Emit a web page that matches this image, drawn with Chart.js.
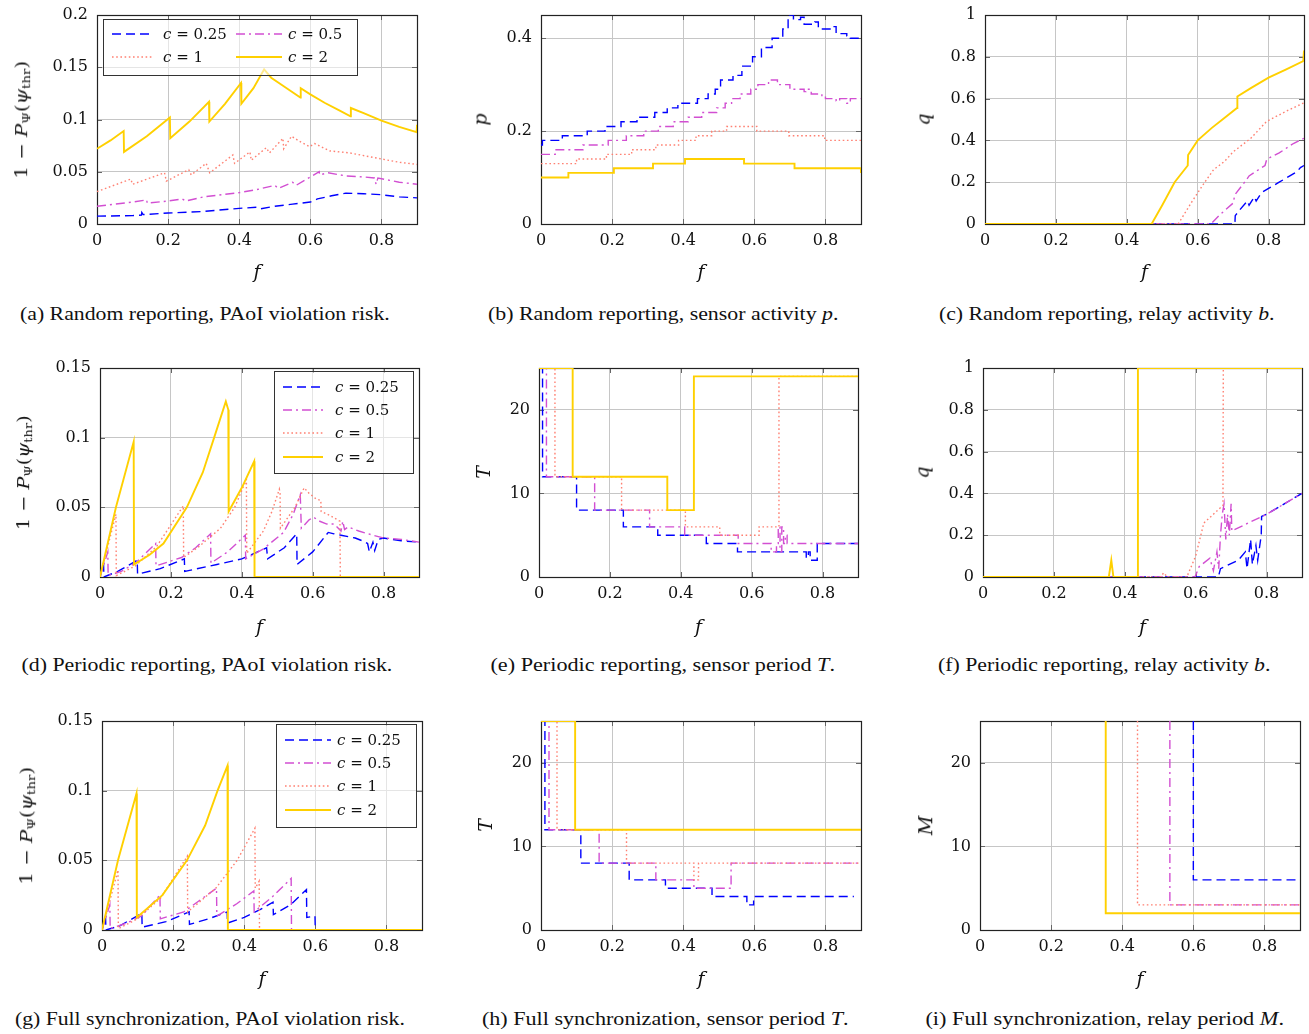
<!DOCTYPE html>
<html><head><meta charset="utf-8">
<script src="https://cdn.jsdelivr.net/npm/chart.js@4.4.1/dist/chart.umd.min.js"></script>
<style>
html,body{margin:0;padding:0;background:#fff;}
body{width:1309px;height:1034px;position:relative;overflow:hidden;}
canvas{position:absolute;}
.t{position:absolute;white-space:nowrap;line-height:1;color:#111;transform-origin:50% 50%;}
.cap{font-family:"Liberation Serif","Times New Roman",serif;font-size:18px;}
.ax{font-family:"DejaVu Serif",serif;font-size:17px;}
.axl{font-family:"DejaVu Serif",serif;font-size:19px;font-style:italic;}
.leg{position:absolute;box-sizing:border-box;border:1px solid #333;background:rgba(255,255,255,0.55);}
.lt{font-family:"DejaVu Serif",serif;font-size:15px;}
sub{font-size:68%;vertical-align:-0.25em;}
</style></head><body>
<script>
// ---------------- data ----------------
const cValues = ['0.25', '0.5', '1', '2'];
const xTickStep = 0.2;

// (a) random reporting, PAoI violation risk
const aBlue = [[0,0.0075],[0.1,0.008],[0.125,0.0085],[0.126,0.011],[0.13,0.009],[0.2,0.0105],[0.3,0.012],[0.4,0.015],[0.45,0.016],[0.46,0.0145],[0.5,0.017],[0.55,0.019],[0.6,0.021],[0.62,0.024],[0.66,0.027],[0.7,0.0295],[0.75,0.029],[0.8,0.028],[0.85,0.026],[0.9,0.025]];
const aMag = [[0,0.017],[0.1,0.021],[0.14,0.023],[0.141,0.020],[0.2,0.022],[0.24,0.024],[0.25,0.022],[0.3,0.026],[0.35,0.028],[0.4,0.030],[0.45,0.033],[0.5,0.037],[0.51,0.034],[0.55,0.040],[0.56,0.037],[0.6,0.045],[0.625,0.050],[0.626,0.047],[0.65,0.049],[0.7,0.046],[0.75,0.045],[0.78,0.044],[0.785,0.038],[0.79,0.044],[0.85,0.040],[0.9,0.038]];
const aSal = [[0,0.031],[0.095,0.043],[0.1,0.038],[0.19,0.049],[0.195,0.041],[0.258,0.052],[0.265,0.047],[0.307,0.058],[0.317,0.049],[0.382,0.066],[0.387,0.058],[0.43,0.069],[0.434,0.061],[0.476,0.073],[0.485,0.068],[0.523,0.082],[0.525,0.072],[0.547,0.084],[0.57,0.079],[0.598,0.074],[0.612,0.077],[0.654,0.070],[0.711,0.068],[0.757,0.065],[0.804,0.062],[0.851,0.059],[0.9,0.057]];
const aYel = [[0,0.072],[0.038,0.080],[0.075,0.089],[0.076,0.069],[0.14,0.084],[0.205,0.102],[0.206,0.082],[0.26,0.098],[0.315,0.117],[0.316,0.098],[0.36,0.115],[0.405,0.135],[0.406,0.115],[0.44,0.130],[0.47,0.148],[0.49,0.140],[0.52,0.133],[0.55,0.126],[0.572,0.121],[0.573,0.130],[0.60,0.124],[0.64,0.116],[0.68,0.109],[0.713,0.103],[0.714,0.111],[0.75,0.106],[0.80,0.099],[0.85,0.093],[0.899,0.088],[0.9,0.095]];

// (b) random reporting, sensor activity p (step values)
const bBlue = [[0,0.17],[0.004,0.18],[0.06,0.19],[0.13,0.20],[0.18,0.21],[0.225,0.22],[0.27,0.23],[0.32,0.24],[0.355,0.25],[0.385,0.26],[0.44,0.27],[0.47,0.28],[0.49,0.29],[0.505,0.31],[0.54,0.32],[0.565,0.34],[0.595,0.36],[0.62,0.38],[0.65,0.40],[0.68,0.42],[0.695,0.45],[0.71,0.44],[0.73,0.445],[0.74,0.43],[0.77,0.435],[0.78,0.42],[0.82,0.425],[0.83,0.41],[0.86,0.405],[0.87,0.40],[0.9,0.40]];
const bMag = [[0,0.15],[0.04,0.16],[0.118,0.17],[0.189,0.18],[0.24,0.19],[0.289,0.20],[0.33,0.21],[0.372,0.22],[0.414,0.23],[0.452,0.24],[0.494,0.25],[0.518,0.26],[0.536,0.27],[0.56,0.28],[0.59,0.29],[0.61,0.30],[0.64,0.31],[0.665,0.30],[0.70,0.29],[0.74,0.285],[0.745,0.29],[0.76,0.28],[0.79,0.275],[0.80,0.27],[0.83,0.265],[0.84,0.27],[0.86,0.26],[0.87,0.27],[0.9,0.27]];
const bSal = [[0,0.13],[0.1,0.14],[0.184,0.15],[0.255,0.16],[0.323,0.17],[0.387,0.18],[0.436,0.19],[0.48,0.20],[0.522,0.21],[0.607,0.20],[0.697,0.19],[0.798,0.18],[0.9,0.18]];
const bYel = [[0,0.10],[0.077,0.11],[0.205,0.12],[0.315,0.13],[0.405,0.14],[0.571,0.13],[0.713,0.12],[0.9,0.11]];

// (c) random reporting, relay activity
const cBlue = [[0,0],[0.705,0],[0.706,0.04],[0.72,0.07],[0.74,0.11],[0.745,0.09],[0.76,0.13],[0.765,0.11],[0.78,0.15],[0.80,0.17],[0.83,0.20],[0.86,0.23],[0.88,0.25],[0.89,0.27],[0.9,0.28]];
const cMag = [[0,0],[0.637,0],[0.66,0.04],[0.70,0.10],[0.705,0.14],[0.737,0.21],[0.745,0.23],[0.79,0.28],[0.795,0.31],[0.83,0.34],[0.87,0.385],[0.9,0.41]];
const cSal = [[0,0],[0.545,0],[0.585,0.11],[0.62,0.20],[0.645,0.26],[0.676,0.30],[0.70,0.345],[0.75,0.41],[0.794,0.49],[0.85,0.54],[0.9,0.58]];
const cYel = [[0,0],[0.47,0],[0.50,0.09],[0.535,0.20],[0.572,0.28],[0.573,0.33],[0.60,0.40],[0.64,0.46],[0.67,0.50],[0.711,0.555],[0.712,0.61],[0.75,0.65],[0.80,0.70],[0.85,0.74],[0.898,0.78],[0.9,0.83]];

// (d) periodic reporting, PAoI violation risk
const dBlue = [[0,0],[0.01,0.01],[0.011,0],[0.05,0.004],[0.105,0.012],[0.106,0.002],[0.17,0.006],[0.238,0.013],[0.239,0.004],[0.33,0.009],[0.40,0.013],[0.47,0.021],[0.473,0.013],[0.52,0.021],[0.555,0.031],[0.556,0.009],[0.60,0.018],[0.644,0.032],[0.66,0.031],[0.68,0.030],[0.70,0.029],[0.72,0.028],[0.74,0.026],[0.755,0.024],[0.76,0.018],[0.77,0.025],[0.775,0.019],[0.785,0.027],[0.8,0.028],[0.85,0.026],[0.9,0.025]];
const dMag = [[0,0],[0.022,0.018],[0.023,0.001],[0.06,0.004],[0.1,0.01],[0.157,0.024],[0.158,0.008],[0.23,0.014],[0.27,0.021],[0.312,0.031],[0.313,0.01],[0.36,0.018],[0.41,0.030],[0.411,0.013],[0.46,0.02],[0.518,0.032],[0.545,0.045],[0.565,0.059],[0.568,0.035],[0.59,0.041],[0.602,0.043],[0.62,0.040],[0.64,0.038],[0.66,0.038],[0.68,0.033],[0.685,0.040],[0.69,0.034],[0.70,0.036],[0.73,0.033],[0.77,0.030],[0.8,0.028],[0.85,0.027],[0.9,0.025]];
const dSal = [[0,0],[0.045,0.045],[0.046,0.001],[0.1,0.008],[0.16,0.022],[0.235,0.051],[0.236,0.014],[0.28,0.022],[0.34,0.035],[0.38,0.05],[0.413,0.07],[0.414,0.017],[0.461,0.033],[0.485,0.047],[0.506,0.063],[0.508,0.060],[0.509,0.035],[0.55,0.05],[0.576,0.064],[0.59,0.060],[0.60,0.058],[0.61,0.056],[0.623,0.055],[0.624,0.047],[0.65,0.044],[0.677,0.040],[0.678,0],[0.9,0]];
const dYel = [[0,0],[0.045,0.05],[0.095,0.097],[0.096,0.009],[0.14,0.016],[0.179,0.024],[0.245,0.05],[0.29,0.075],[0.322,0.10],[0.355,0.126],[0.362,0.12],[0.363,0.047],[0.40,0.064],[0.435,0.083],[0.436,0],[0.9,0]];

// (e) periodic reporting, sensor period T (step values)
const eBlue = [[0,25],[0.01,12],[0.106,8],[0.238,6],[0.335,5],[0.472,4],[0.56,3],[0.754,2.3],[0.76,3],[0.765,2],[0.785,4],[0.9,4]];
const eMag = [[0,25],[0.021,12],[0.157,8],[0.312,6],[0.411,5],[0.562,4],[0.655,3],[0.67,4],[0.675,6],[0.68,3],[0.685,6],[0.69,4],[0.695,5],[0.70,4],[0.9,4]];
const eSal = [[0,25],[0.045,12],[0.233,8],[0.413,6],[0.51,5],[0.621,6],[0.677,24],[0.9,24]];
const eYel = [[0,25],[0.095,12],[0.362,8],[0.437,24],[0.9,24]];

// (f) periodic reporting, relay activity
const fBlue = [[0,0],[0.664,0],[0.67,0.04],[0.72,0.08],[0.74,0.12],[0.745,0.04],[0.755,0.18],[0.76,0.06],[0.77,0.15],[0.775,0.08],[0.785,0.2],[0.786,0.29],[0.8,0.30],[0.85,0.35],[0.9,0.40]];
const fMag = [[0,0],[0.598,0],[0.61,0.05],[0.64,0.09],[0.65,0.03],[0.66,0.12],[0.665,0.04],[0.67,0.2],[0.675,0.3],[0.68,0.35],[0.685,0.18],[0.69,0.3],[0.695,0.2],[0.70,0.35],[0.702,0.22],[0.75,0.26],[0.80,0.30],[0.85,0.35],[0.9,0.40]];
const fSal = [[0,0],[0.50,0],[0.51,0.02],[0.52,0],[0.575,0],[0.60,0.1],[0.623,0.258],[0.65,0.30],[0.677,0.343],[0.678,1],[0.9,1]];
const fYel = [[0,0],[0.355,0],[0.362,0.08],[0.368,0],[0.437,0],[0.4371,1],[0.9,1]];

// (g) full synchronization, PAoI violation risk
const gBlue = [[0,0],[0.01,0.01],[0.011,0],[0.05,0.003],[0.112,0.012],[0.113,0.002],[0.18,0.006],[0.245,0.013],[0.246,0.004],[0.30,0.008],[0.352,0.013],[0.353,0.005],[0.40,0.009],[0.44,0.014],[0.481,0.02],[0.482,0.011],[0.53,0.018],[0.575,0.029],[0.576,0.009],[0.599,0.01],[0.6,0],[0.9,0]];
const gMag = [[0,0],[0.022,0.018],[0.023,0.001],[0.07,0.005],[0.11,0.01],[0.163,0.025],[0.164,0.008],[0.23,0.013],[0.322,0.03],[0.323,0.01],[0.38,0.019],[0.427,0.028],[0.428,0.013],[0.48,0.024],[0.532,0.037],[0.533,0],[0.9,0]];
const gSal = [[0,0],[0.045,0.043],[0.046,0.001],[0.1,0.008],[0.165,0.023],[0.24,0.053],[0.241,0.013],[0.32,0.03],[0.38,0.05],[0.43,0.073],[0.431,0.03],[0.442,0.035],[0.443,0],[0.9,0]];
const gYel = [[0,0],[0.045,0.05],[0.097,0.098],[0.098,0.009],[0.17,0.025],[0.239,0.05],[0.29,0.075],[0.325,0.1],[0.353,0.118],[0.354,0],[0.9,0]];

// (h) full synchronization, sensor period T (step values)
const hBlue = [[0,25],[0.011,12],[0.112,8],[0.248,6],[0.35,5],[0.481,4],[0.579,3],[0.598,4],[0.88,4]];
const hMag = [[0,25],[0.0225,12],[0.1635,8],[0.323,6],[0.43,5],[0.5346,8],[0.9,8]];
const hSal = [[0,25],[0.045,12],[0.2405,8],[0.43,6],[0.443,8],[0.9,8]];
const hYel = [[0,25],[0.096,12],[0.9,12]];

// (i) full synchronization, relay period M
const iBlue = [[0.6,25],[0.6,6],[0.9,6]];
const iMag = [[0.534,25],[0.534,3],[0.9,3]];
const iSal = [[0.443,25],[0.443,3],[0.9,3]];
const iYel = [[0.3536,25],[0.3536,2],[0.9,2]];

// ---------------- styles ----------------
const STY = [
  {color:'#0000ff', w:1.4, dash:[9,5]},
  {color:'#d24fd2', w:1.4, dash:[9,4,2,4]},
  {color:'#ff8072', w:1.4, dash:[1.6,2.6]},
  {color:'#ffd000', w:1.9, dash:[]}
];
const YT_RISK = '1 − <i>P</i><sub>Ψ</sub>(<i>ψ</i><sub>thr</sub>)';

const panels = [
  {rect:[97,15,417,224], y:[0,0.2,0.05], stepped:false, s:[aBlue,aMag,aSal,aYel], yt:YT_RISK, ytx:23, ytw:118, cap:'(a) Random reporting, PAoI violation risk.', cx:205, cy:314, cw:370, fy:271},
  {rect:[541,15,861,224], y:[0,0.45,0.2], stepped:true, s:[bBlue,bMag,bSal,bYel], yt:'p', ytx:480, cap:'(b) Random reporting, sensor activity <i>p</i>.', cx:663, cy:314, cw:350, fy:271},
  {rect:[985,15,1304,224], y:[0,1,0.2], stepped:false, s:[cBlue,cMag,cSal,cYel], yt:'q', ytx:923, cap:'(c) Random reporting, relay activity <i>b</i>.', cx:1106, cy:314, cw:335, fy:271},
  {rect:[100,368,419,577], y:[0,0.15,0.05], stepped:false, s:[dBlue,dMag,dSal,dYel], yt:YT_RISK, ytx:25, ytw:115, cap:'(d) Periodic reporting, PAoI violation risk.', cx:207, cy:665, cw:371, fy:626},
  {rect:[539,368,858,577], y:[0,25,10], stepped:true, s:[eBlue,eMag,eSal,eYel], yt:'T', ytx:483, cap:'(e) Periodic reporting, sensor period <i>T</i>.', cx:662, cy:665, cw:344, fy:626},
  {rect:[983,368,1302,577], y:[0,1,0.2], stepped:false, s:[fBlue,fMag,fSal,fYel], yt:'q', ytx:922, cap:'(f) Periodic reporting, relay activity <i>b</i>.', cx:1104, cy:665, cw:332, fy:626},
  {rect:[102,721,422,930], y:[0,0.15,0.05], stepped:false, s:[gBlue,gMag,gSal,gYel], yt:YT_RISK, ytx:28, ytw:118, cap:'(g) Full synchronization, PAoI violation risk.', cx:210, cy:1019, cw:390, fy:978},
  {rect:[541,721,861,930], y:[0,25,10], stepped:true, s:[hBlue,hMag,hSal,hYel], yt:'T', ytx:485, cap:'(h) Full synchronization, sensor period <i>T</i>.', cx:665, cy:1019, cw:366, fy:978},
  {rect:[980,721,1300,930], y:[0,25,10], stepped:false, s:[iBlue,iMag,iSal,iYel], yt:'M', ytx:925, cap:'(i) Full synchronization, relay period <i>M</i>.', cx:1104, cy:1019, cw:358, fy:978}
];

// ---------------- helpers ----------------
const fmt = v => String(parseFloat(Number(v).toFixed(4)));
const tickFont = {family:'DejaVu Serif', size:16};

const framePlugin = {
  id:'frame',
  beforeDatasetsDraw(chart){
    const {ctx, chartArea:{left,right,top,bottom}, scales:{x,y}} = chart;
    ctx.save();
    ctx.strokeStyle = '#666'; ctx.lineWidth = 1;
    ctx.beginPath();
    x.ticks.forEach(t => {
      const px = Math.round(x.getPixelForValue(t.value)) + 0.5;
      ctx.moveTo(px, bottom); ctx.lineTo(px, bottom - 5);
      ctx.moveTo(px, top); ctx.lineTo(px, top + 5);
    });
    y.ticks.forEach(t => {
      const py = Math.round(y.getPixelForValue(t.value)) + 0.5;
      ctx.moveTo(left, py); ctx.lineTo(left + 5, py);
      ctx.moveTo(right, py); ctx.lineTo(right - 5, py);
    });
    ctx.stroke();
    ctx.strokeStyle = '#222'; ctx.lineWidth = 1.2;
    ctx.strokeRect(Math.round(left) + 0.5, Math.round(top) + 0.5, Math.round(right - left), Math.round(bottom - top));
    ctx.restore();
  }
};

function placeText(html, cls, cx, cy, targetW, rot){
  const e = document.createElement('div');
  e.className = 't ' + cls; e.innerHTML = html;
  document.body.appendChild(e);
  const w = e.offsetWidth, h = e.offsetHeight;
  e.style.left = (cx - w / 2) + 'px';
  e.style.top = (cy - h / 2) + 'px';
  let tr = rot ? 'rotate(-90deg) ' : '';
  if (targetW) tr += 'scaleX(' + (targetW / w) + ')';
  e.style.transform = tr;
  return e;
}

function build(p){
  const [l, t, r, b] = p.rect;
  const YW = 70, XH = 40, PT = 22, PR = 20;
  const W = r - l + YW + PR, H = b - t + PT + XH;
  const cv = document.createElement('canvas');
  cv.width = W; cv.height = H;
  cv.style.left = (l - YW) + 'px'; cv.style.top = (t - PT) + 'px';
  cv.style.width = W + 'px'; cv.style.height = H + 'px';
  document.body.appendChild(cv);
  const order = [3, 2, 1, 0];
  const datasets = order.map(i => ({
    label: 'c = ' + cValues[i],
    data: p.s[i].map(([x, y]) => ({x, y})),
    borderColor: STY[i].color,
    borderWidth: STY[i].w,
    borderDash: STY[i].dash,
    pointRadius: 0,
    fill: false,
    tension: 0,
    stepped: p.stepped ? 'before' : false
  }));
  const gridOpt = {color:'#c6c6c6', lineWidth:1, drawTicks:false};
  new Chart(cv, {
    type:'line',
    data:{datasets},
    options:{
      responsive:false, animation:false, devicePixelRatio:1,
      layout:{padding:{left:0, right:PR, top:PT, bottom:0}},
      plugins:{legend:{display:false}, tooltip:{enabled:false}},
      scales:{
        x:{type:'linear', min:0, max:0.9,
           afterFit:s => { s.height = XH; },
           ticks:{stepSize:xTickStep, includeBounds:false, padding:7, maxRotation:0, autoSkip:false, color:'#111', font:tickFont, callback:fmt},
           grid:gridOpt, border:{display:false}},
        y:{type:'linear', min:p.y[0], max:p.y[1],
           afterFit:s => { s.width = YW; },
           ticks:{stepSize:p.y[2], includeBounds:false, padding:9, color:'#111', font:tickFont, callback:fmt},
           grid:gridOpt, border:{display:false}}
      }
    },
    plugins:[framePlugin]
  });
  // axis titles
  placeText('f', 'axl', (l + r) / 2, p.fy, 0, false);
  if (p.ytw) placeText(p.yt, 'ax', p.ytx, (t + b) / 2, p.ytw, true);
  else placeText(p.yt, 'axl', p.ytx, (t + b) / 2, 0, true);
  // caption
  placeText(p.cap, 'cap', p.cx, p.cy, p.cw, false);
}

function addLegend(box, rows){
  const d = document.createElement('div');
  d.className = 'leg';
  d.style.left = box[0] + 'px'; d.style.top = box[1] + 'px';
  d.style.width = box[2] + 'px'; d.style.height = box[3] + 'px';
  let svg = '<svg width="' + box[2] + '" height="' + box[3] + '" style="position:absolute;left:-1px;top:-1px;overflow:visible">';
  rows.forEach(([i, x1, x2, tx, y]) => {
    const dash = STY[i].dash.length ? STY[i].dash.join(' ') : 'none';
    svg += '<line x1="' + (x1 - box[0]) + '" y1="' + (y - box[1]) + '" x2="' + (x2 - box[0]) + '" y2="' + (y - box[1]) +
      '" stroke="' + STY[i].color + '" stroke-width="' + STY[i].w + '" stroke-dasharray="' + dash + '"/>';
  });
  svg += '</svg>';
  d.innerHTML = svg;
  document.body.appendChild(d);
  rows.forEach(([i, x1, x2, tx, y]) => {
    const e = document.createElement('div');
    e.className = 't lt';
    e.innerHTML = '<i>c</i> = ' + cValues[i];
    document.body.appendChild(e);
    e.style.left = tx + 'px';
    e.style.top = (y - e.offsetHeight / 2) + 'px';
  });
}

panels.forEach(build);

addLegend([103, 19, 255, 57], [
  [0, 112, 152, 163, 34], [1, 236, 282, 288, 34],
  [2, 112, 152, 163, 57], [3, 236, 282, 288, 57]
]);
addLegend([274, 371, 140, 103], [
  [0, 283, 323, 335, 387], [1, 283, 323, 335, 410],
  [2, 283, 323, 335, 433], [3, 283, 323, 335, 457]
]);
addLegend([276, 724, 141, 104], [
  [0, 285, 331, 337, 740], [1, 285, 331, 337, 763],
  [2, 285, 331, 337, 786], [3, 285, 331, 337, 810]
]);
</script>
</body></html>
